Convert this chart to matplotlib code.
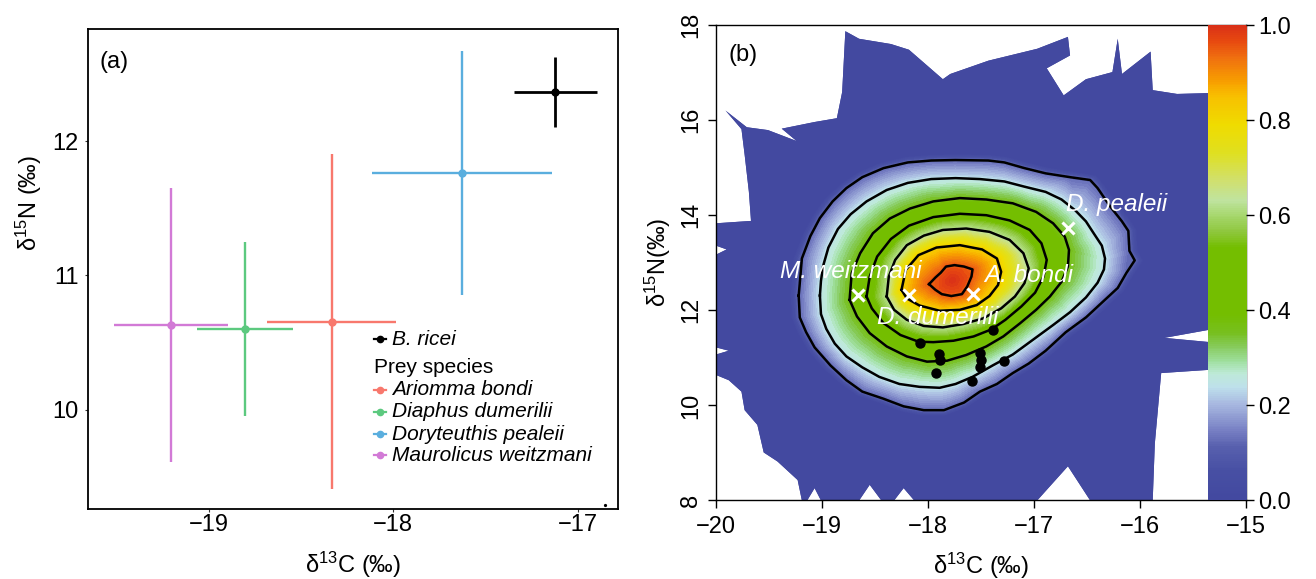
import numpy as np
import matplotlib
matplotlib.use("Agg")
import matplotlib.pyplot as plt
import matplotlib.tri as mtri
from matplotlib.colors import LinearSegmentedColormap
from matplotlib.patches import Polygon
from matplotlib.lines import Line2D

plt.rcParams['font.family'] = ['Liberation Sans', 'DejaVu Sans']
plt.rcParams['mathtext.default'] = 'regular'

# ---------------- data: panel (a) ----------------
prey_names = ['Ariomma bondi', 'Diaphus dumerilii', 'Doryteuthis pealeii', 'Maurolicus weitzmani']
prey_d13c = [-18.335, -18.803, -17.629, -19.207]
prey_d15n = [10.655, 10.601, 11.763, 10.629]
prey_sd13c = [0.352, 0.261, 0.489, 0.309]
prey_sd15n = [1.248, 0.647, 0.912, 1.024]
pred_name = 'B. ricei'
pred_d13c = [-17.120]
pred_d15n = [12.369]
pred_sd13c = [0.223]
pred_sd15n = [0.263]
stray_x = [-16.85]
stray_y = [9.29]
a_xticks = [-19, -18, -17]
a_yticks = [10, 11, 12]

# ---------------- data: panel (b) ----------------
src_labels = ['A. bondi', 'D. dumerilii', 'D. pealeii', 'M. weitzmani']
src_d13c = [-17.571, -18.183, -16.683, -18.665]
src_d15n = [12.351, 12.312, 13.734, 12.312]
consumer_d13c = [-18.080, -17.896, -17.888, -17.927, -17.506, -17.498, -17.513, -17.582, -17.391, -17.284]
consumer_d15n = [11.302, 11.085, 10.952, 10.681, 11.108, 10.953, 10.797, 10.510, 11.590, 10.929]
b_xticks = [-20, -19, -18, -17, -16, -15]
b_yticks = [8, 10, 12, 14, 16, 18]
cbar_ticks = [0.0, 0.2, 0.4, 0.6, 0.8, 1.0]

# contour lines of the mixing-region probability
contour_levels = [0.12, 0.24, 0.36, 0.48, 0.62, 0.82, 0.95]
contour_c1 = [(-19.22, 12.31), (-19.19, 13.09), (-19.11, 13.56), (-19.02, 13.94), (-18.90, 14.29),
              (-18.77, 14.57), (-18.62, 14.80), (-18.42, 14.99), (-18.19, 15.11), (-17.97, 15.15),
              (-17.74, 15.16), (-17.43, 15.15), (-17.28, 15.11), (-17.09, 14.99), (-16.89, 14.88),
              (-16.66, 14.80), (-16.47, 14.74), (-16.40, 14.57), (-16.28, 14.18), (-16.17, 13.87),
              (-16.11, 13.67), (-16.10, 13.25), (-16.05, 13.05), (-16.13, 12.78), (-16.21, 12.47),
              (-16.36, 12.16), (-16.51, 11.85), (-16.70, 11.54), (-16.89, 11.15), (-17.05, 10.88),
              (-17.20, 10.68), (-17.35, 10.45), (-17.51, 10.29), (-17.66, 10.06), (-17.85, 9.90),
              (-18.04, 9.90), (-18.23, 9.98), (-18.42, 10.14), (-18.62, 10.29), (-18.77, 10.53),
              (-18.92, 10.84), (-19.07, 11.22), (-19.15, 11.54), (-19.21, 11.85)]
contour_c2 = [(-19.02, 12.31), (-19.01, 12.62), (-18.99, 12.93), (-18.94, 13.32), (-18.85, 13.71),
              (-18.73, 14.02), (-18.58, 14.29), (-18.39, 14.53), (-18.19, 14.68), (-17.97, 14.76),
              (-17.74, 14.78), (-17.51, 14.76), (-17.28, 14.71), (-17.09, 14.60), (-16.89, 14.49),
              (-16.74, 14.33), (-16.61, 14.10), (-16.51, 13.87), (-16.44, 13.63), (-16.36, 13.36),
              (-16.33, 13.09), (-16.34, 12.86), (-16.40, 12.58), (-16.51, 12.27), (-16.66, 11.96),
              (-16.82, 11.69), (-17.01, 11.38), (-17.20, 11.07), (-17.39, 10.84), (-17.58, 10.60),
              (-17.74, 10.45), (-17.89, 10.37), (-18.08, 10.39), (-18.27, 10.45), (-18.46, 10.60),
              (-18.62, 10.80), (-18.77, 11.03), (-18.88, 11.30), (-18.96, 11.61), (-19.01, 11.92)]
contour_c3 = [(-18.74, 12.22), (-18.72, 12.78), (-18.64, 13.20), (-18.52, 13.62), (-18.36, 13.93),
              (-18.17, 14.14), (-17.95, 14.29), (-17.70, 14.36), (-17.45, 14.33), (-17.20, 14.25),
              (-16.98, 14.07), (-16.82, 13.83), (-16.71, 13.55), (-16.67, 13.27), (-16.68, 12.92),
              (-16.74, 12.60), (-16.85, 12.29), (-16.98, 12.01), (-17.13, 11.73), (-17.29, 11.45),
              (-17.45, 11.24), (-17.64, 11.06), (-17.82, 10.94), (-18.01, 10.92), (-18.20, 11.03),
              (-18.39, 11.24), (-18.55, 11.52), (-18.67, 11.87)]
contour_c4 = [(-18.58, 12.29), (-18.55, 12.71), (-18.48, 13.13), (-18.35, 13.50), (-18.18, 13.78),
              (-17.95, 13.96), (-17.70, 14.03), (-17.45, 14.00), (-17.23, 13.89), (-17.04, 13.69),
              (-16.93, 13.41), (-16.88, 13.06), (-16.91, 12.71), (-16.99, 12.37), (-17.12, 12.08),
              (-17.27, 11.80), (-17.40, 11.60), (-17.57, 11.45), (-17.76, 11.36), (-17.95, 11.33),
              (-18.09, 11.34), (-18.26, 11.48), (-18.42, 11.73), (-18.53, 12.04)]
contour_c5 = [(-18.39, 12.29), (-18.37, 12.71), (-18.31, 13.06), (-18.20, 13.37), (-18.04, 13.57),
              (-17.86, 13.69), (-17.64, 13.72), (-17.42, 13.65), (-17.23, 13.48), (-17.10, 13.20),
              (-17.05, 12.88), (-17.09, 12.57), (-17.18, 12.29), (-17.31, 12.04), (-17.48, 11.83),
              (-17.67, 11.71), (-17.86, 11.64), (-18.04, 11.67), (-18.20, 11.80), (-18.32, 12.01)]
contour_c6 = [(-18.25, 12.43), (-18.21, 12.85), (-18.09, 13.16), (-17.92, 13.32), (-17.70, 13.37),
              (-17.49, 13.28), (-17.35, 13.09), (-17.31, 12.81), (-17.34, 12.53), (-17.42, 12.30),
              (-17.54, 12.11), (-17.70, 12.01), (-17.89, 11.99), (-18.08, 12.10), (-18.20, 12.25)]
contour_c7 = [(-17.99, 12.55), (-17.93, 12.69), (-17.88, 12.79), (-17.83, 12.92), (-17.75, 12.95),
              (-17.66, 12.92), (-17.58, 12.86), (-17.59, 12.71), (-17.63, 12.50), (-17.68, 12.34),
              (-17.78, 12.30), (-17.87, 12.34), (-17.93, 12.43)]
contours = [contour_c1, contour_c2, contour_c3, contour_c4, contour_c5, contour_c6, contour_c7]

# where the blue halo just outside the outer contour fades to zero
halo_ring = [(-19.30, 12.31), (-19.27, 13.10), (-19.18, 13.61), (-19.08, 14.02), (-18.96, 14.38),
             (-18.82, 14.66), (-18.66, 14.90), (-18.45, 15.10), (-18.20, 15.23), (-17.97, 15.27),
             (-17.74, 15.28), (-17.43, 15.27), (-17.27, 15.23), (-17.06, 15.11), (-16.87, 15.00),
             (-16.64, 14.92), (-16.41, 14.83), (-16.33, 14.61), (-16.20, 14.21), (-16.09, 13.89),
             (-16.03, 13.68), (-16.02, 13.25), (-15.97, 13.04), (-16.06, 12.74), (-16.15, 12.41),
             (-16.30, 12.09), (-16.45, 11.78), (-16.64, 11.46), (-16.83, 11.07), (-17.00, 10.80),
             (-17.16, 10.59), (-17.31, 10.36), (-17.48, 10.19), (-17.64, 9.95), (-17.85, 9.78),
             (-18.05, 9.78), (-18.25, 9.87), (-18.46, 10.05), (-18.67, 10.21), (-18.83, 10.46),
             (-18.99, 10.78), (-19.14, 11.18), (-19.23, 11.52), (-19.29, 11.85)]
halo_level = 0.0
peak_point = [(-17.77, 12.63)]
peak_level = 1.0

# outline of the simulated mixing region (outside = no data / white)
region_outline = [(-20.0, 13.83), (-19.67, 13.88), (-19.69, 14.49), (-19.73, 15.27), (-19.76, 15.81),
                  (-19.91, 16.20), (-19.71, 15.85), (-19.51, 15.79), (-19.24, 15.56), (-19.38, 15.82),
                  (-19.07, 15.96), (-18.86, 16.04), (-18.81, 16.59), (-18.78, 17.87), (-18.65, 17.71),
                  (-18.35, 17.60), (-18.18, 17.48), (-18.02, 17.17), (-17.86, 16.86), (-17.79, 16.97),
                  (-17.43, 17.25), (-16.97, 17.50), (-16.68, 17.75), (-16.66, 17.36), (-16.88, 17.09),
                  (-16.72, 16.52), (-16.51, 16.86), (-16.26, 17.01), (-16.21, 17.71), (-16.17, 16.97),
                  (-15.90, 17.44), (-15.88, 16.63), (-15.65, 16.55), (-15.00, 16.59), (-15.00, 11.73),
                  (-15.77, 11.42), (-15.00, 11.26), (-15.00, 10.80), (-15.80, 10.68), (-15.86, 9.20),
                  (-15.88, 8.00), (-16.47, 8.00), (-16.68, 8.72), (-16.97, 8.00), (-18.13, 8.00),
                  (-18.23, 8.26), (-18.32, 8.00), (-18.44, 8.00), (-18.55, 8.33), (-18.65, 8.00),
                  (-19.01, 8.00), (-19.07, 8.26), (-19.14, 8.00), (-19.19, 8.00), (-19.23, 8.43),
                  (-19.42, 8.82), (-19.55, 9.01), (-19.61, 9.59), (-19.73, 9.90), (-19.76, 10.29),
                  (-19.88, 10.53), (-20.00, 10.64), (-20.00, 11.07), (-19.88, 11.15), (-20.00, 11.22),
                  (-20.00, 13.17), (-19.90, 13.28), (-20.00, 13.36)]
outline_level = 0.0

# ---------------- styles ----------------
prey_colors = ['#F8786D', '#5CC97F', '#5AAEDE', '#D27AD6']
cmap_pos = [0.0, 0.06, 0.11, 0.145, 0.2, 0.235, 0.265, 0.29, 0.32, 0.35, 0.39, 0.53, 0.565,
            0.60, 0.63, 0.67, 0.73, 0.79, 0.85, 0.88, 0.93, 0.965, 1.0]
cmap_cols = ['#4349A0', '#4850A4', '#5860AE', '#7880C4', '#A8B8E0', '#BEE0EC', '#BEEAD8', '#A0E0A0',
             '#88CC60', '#78C020', '#74BE00', '#74BE00', '#90C840', '#A8D870', '#C0E4A0', '#D0E070',
             '#E0E020', '#F0DC00', '#F8C000', '#F8A000', '#F07010', '#E84A10', '#D93018']
mix_cmap = LinearSegmentedColormap.from_list('mix', list(zip(cmap_pos, cmap_cols)))
TICK_FS = 17
LEG_FS = 15

fig = plt.figure(figsize=(13.16, 5.79), dpi=100)
axA = fig.add_axes([0.06687, 0.1209, 0.4027, 0.8282])
axB = fig.add_axes([0.5441, 0.1356, 0.4027, 0.8212])

# ================= panel (a) =================
for i in range(len(prey_names)):
    axA.errorbar(prey_d13c[i], prey_d15n[i], xerr=prey_sd13c[i], yerr=prey_sd15n[i],
                 fmt='o', color=prey_colors[i], ms=5, lw=1.7, capsize=0, zorder=2)
axA.errorbar(pred_d13c, pred_d15n, xerr=pred_sd13c, yerr=pred_sd15n, fmt='o', color='black',
             ms=5, lw=2.0, capsize=0, zorder=3)
axA.plot(stray_x, stray_y, 'o', color='black', ms=1.3)
axA.set_xlim(-19.657, -16.781)
axA.set_ylim(9.258, 12.835)
axA.set_xticks(a_xticks)
axA.set_yticks(a_yticks)
for s in axA.spines.values():
    s.set_linewidth(1.3)
axA.tick_params(axis='both', length=2.5, width=0.8, color='#333333', labelsize=TICK_FS)
axA.tick_params(axis='x', pad=1)
axA.tick_params(axis='y', pad=4)
axA.set_xlabel('δ$^{13}$C (‰)', fontsize=TICK_FS)
axA.xaxis.set_label_coords(0.5, -0.085)
axA.set_ylabel('δ$^{15}$N (‰)', fontsize=TICK_FS)
axA.yaxis.set_label_coords(-0.083, 0.638)
axA.text(0.0226, 0.933, '(a)', transform=axA.transAxes, fontsize=TICK_FS, va='center', ha='left')

# manual legend
key_x0, key_x1, key_xc, txt_x = 0.5396, 0.5623, 0.551, 0.5745
def legend_key(y, color):
    axA.add_line(Line2D([key_x0, key_x1], [y, y], transform=axA.transAxes, color=color, lw=1.6))
    axA.add_line(Line2D([key_xc], [y], transform=axA.transAxes, color=color, marker='o', ms=4.5, ls='none'))

legend_key(0.3545, 'black')
axA.text(txt_x, 0.3545, pred_name, transform=axA.transAxes, fontsize=LEG_FS, style='italic', va='center')
axA.text(key_x0, 0.2941, 'Prey species', transform=axA.transAxes, fontsize=LEG_FS, va='center')
leg_ys = [0.2482, 0.2023, 0.1564, 0.1126]
for name, col, yy in zip(prey_names, prey_colors, leg_ys):
    legend_key(yy, col)
    axA.text(txt_x, yy, name, transform=axA.transAxes, fontsize=LEG_FS, style='italic', va='center')

# ================= panel (b) =================
axB.set_xlim(-20, -15)
axB.set_ylim(8, 18)
fig.canvas.draw()

pts, vals = [], []
for ring, lev in zip(contours, contour_levels):
    pts += ring
    vals += [lev] * len(ring)
pts += halo_ring; vals += [halo_level] * len(halo_ring)
pts += peak_point; vals += [peak_level]
pts += region_outline; vals += [outline_level] * len(region_outline)
pts = np.array(pts, dtype=float)
vals = np.array(vals, dtype=float)

# solid base of the region (lowest colour) so no seams show through
base_poly = Polygon(np.array(region_outline), closed=True, facecolor=mix_cmap(0.0),
                    edgecolor='none', zorder=0.5)
axB.add_patch(base_poly)

disp = axB.transData.transform(pts)
tri_disp = mtri.Triangulation(disp[:, 0], disp[:, 1])
tri = mtri.Triangulation(pts[:, 0], pts[:, 1], triangles=tri_disp.triangles)
cs = axB.tricontourf(tri, vals, levels=np.linspace(-0.001, 1.001, 101), cmap=mix_cmap,
                     vmin=0, vmax=1, zorder=1, antialiased=False)
clip_poly = Polygon(np.array(region_outline), closed=True, transform=axB.transData,
                    facecolor='none', edgecolor='none')
cs.set_clip_path(clip_poly)

for ring in contours:
    r = np.array(ring + [ring[0]])
    axB.plot(r[:, 0], r[:, 1], color='black', lw=1.8, zorder=2, solid_joinstyle='round')

# colour bar drawn inside the plotting region (as in the original)
cbar_x0 = -15.363
axB.imshow(np.linspace(0, 1, 256)[:, None], extent=[cbar_x0, -15.0, 8, 18], origin='lower',
           cmap=mix_cmap, aspect='auto', zorder=3, interpolation='nearest')
axB.set_xlim(-20, -15)
axB.set_ylim(8, 18)

axB.plot(consumer_d13c, consumer_d15n, 'o', color='black', ms=6.5, zorder=4)
axB.plot(src_d13c, src_d15n, 'x', color='white', ms=9, mew=2.2, zorder=5)
label_xy = {'A. bondi': (-17.05, 12.74), 'D. dumerilii': (-17.91, 11.85),
            'D. pealeii': (-16.22, 14.22), 'M. weitzmani': (-18.73, 12.82)}
for lab in src_labels:
    lx, ly = label_xy[lab]
    axB.text(lx, ly, lab, color='white', fontsize=17.5, style='italic', ha='center', va='center', zorder=6)

axB.set_xticks(b_xticks)
axB.set_yticks(b_yticks)
for s in axB.spines.values():
    s.set_linewidth(1.0)
axB.tick_params(axis='both', length=6, width=1.0, labelsize=TICK_FS)
axB.tick_params(axis='x', pad=5)
axB.tick_params(axis='y', pad=4)
for lab in axB.get_yticklabels():
    lab.set_rotation(90)
    lab.set_va('center')
axB.set_xlabel('δ$^{13}$C (‰)', fontsize=TICK_FS)
axB.xaxis.set_label_coords(0.5, -0.105)
axB.set_ylabel('δ$^{15}$N(‰)', fontsize=TICK_FS)
axB.yaxis.set_label_coords(-0.081, 0.5)
axB.text(0.024, 0.937, '(b)', transform=axB.transAxes, fontsize=TICK_FS, va='center', ha='left', zorder=7)

axC = axB.twinx()
axC.set_ylim(0, 1)
axC.set_yticks(cbar_ticks)
axC.set_yticklabels([f'{t:.1f}' for t in cbar_ticks])
axC.tick_params(axis='y', length=6, width=1.0, labelsize=TICK_FS, pad=3)
for s in axC.spines.values():
    s.set_visible(False)

fig.savefig('out.png', dpi=100)
